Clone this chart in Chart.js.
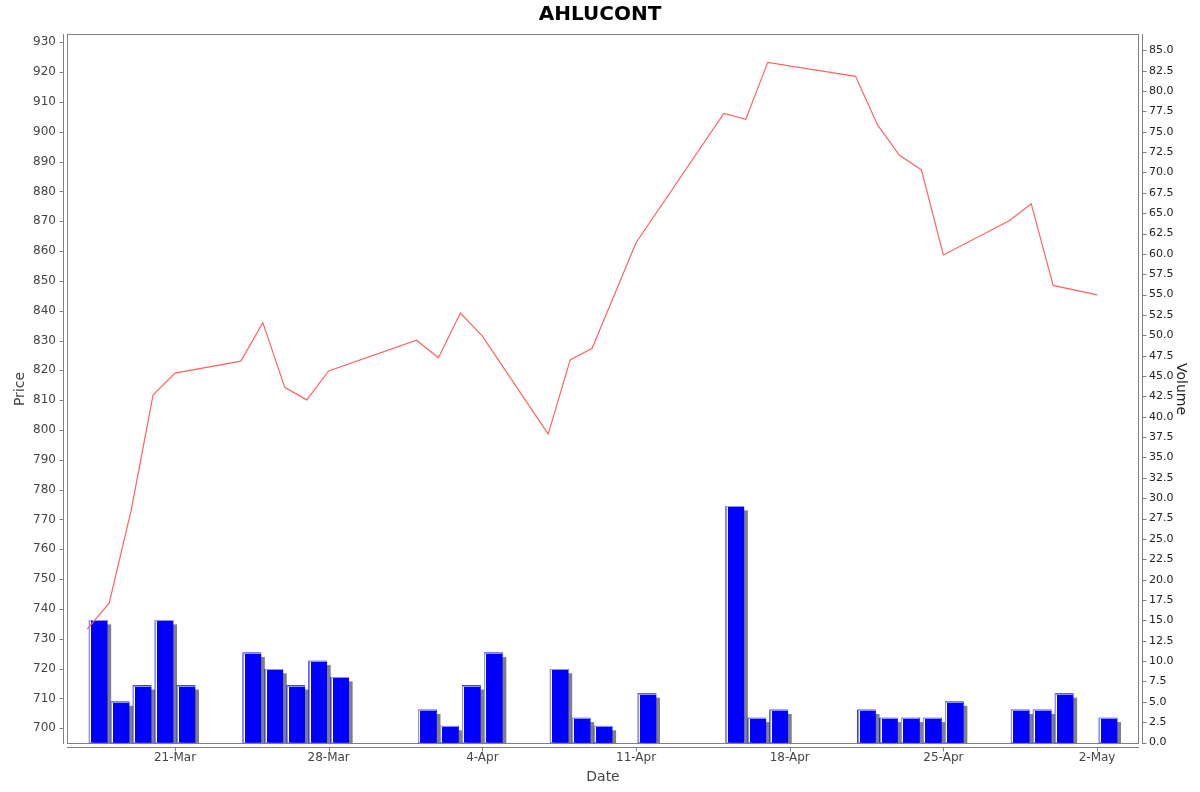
<!DOCTYPE html>
<html>
<head>
<meta charset="utf-8">
<title>AHLUCONT</title>
<script src="https://cdn.jsdelivr.net/npm/chart.js@4/dist/chart.umd.min.js"></script>
<style>
  html, body { margin: 0; padding: 0; background: #fff; }
  #wrap { width: 1200px; height: 792px; }
</style>
</head>
<body>
<div id="wrap"><canvas id="chart"></canvas></div>
<script>
// trading days shown on the chart
const dates = [
  '2025-03-17', '2025-03-18', '2025-03-19', '2025-03-20', '2025-03-21',
  '2025-03-24', '2025-03-25', '2025-03-26', '2025-03-27', '2025-03-28',
  '2025-04-01', '2025-04-02', '2025-04-03', '2025-04-04',
  '2025-04-07', '2025-04-08', '2025-04-09', '2025-04-11',
  '2025-04-15', '2025-04-16', '2025-04-17',
  '2025-04-21', '2025-04-22', '2025-04-23', '2025-04-24', '2025-04-25',
  '2025-04-28', '2025-04-29', '2025-04-30', '2025-05-02'
];
const prices = [
  733.2, 741.9, 773.0, 811.7, 819.1,
  823.1, 836.0, 814.3, 810.1, 819.8,
  830.1, 824.2, 839.2, 831.5,
  798.6, 823.5, 827.4, 862.8,
  906.2, 904.2, 923.3,
  918.6, 902.3, 892.1, 887.2, 858.7,
  870.2, 875.9, 848.5, 845.3
];
const volumes = [
  15, 5, 7, 15, 7,
  11, 9, 7, 10, 8,
  4, 2, 7, 11,
  9, 3, 2, 6,
  29, 3, 4,
  4, 3, 3, 3, 5,
  4, 4, 6, 3
];
const tickDates = ['2025-03-21', '2025-03-28', '2025-04-04', '2025-04-11', '2025-04-18', '2025-04-25', '2025-05-02'];
const tickLabels = ['21-Mar', '28-Mar', '4-Apr', '11-Apr', '18-Apr', '25-Apr', '2-May'];

const base = Date.parse('2025-03-21');
const dayNo = s => Math.round((Date.parse(s) - base) / 86400000);

const FONT = 'DejaVu Sans';
const GREY = '#808080';

// JFreeChart-style grey shadow under each bar, plus the light left/top edge on top
const barDeco = {
  id: 'barDeco',
  beforeDatasetDraw(chart, args) {
    if (args.meta.type !== 'bar') return;
    const { ctx, chartArea: a } = chart;
    ctx.save();
    ctx.beginPath();
    ctx.rect(a.left, a.top, a.right - a.left, a.bottom - a.top);
    ctx.clip();
    ctx.fillStyle = GREY;
    args.meta.data.forEach(el => {
      const { x, y, base, width } = el.getProps(['x', 'y', 'base', 'width'], true);
      ctx.fillRect(x - width / 2 + 4, y + 4, width, base - y);
    });
    ctx.restore();
  },
  afterDatasetDraw(chart, args) {
    if (args.meta.type !== 'bar') return;
    const ctx = chart.ctx;
    ctx.save();
    args.meta.data.forEach(el => {
      const { x, y, base, width } = el.getProps(['x', 'y', 'base', 'width'], true);
      const l = Math.round(x - width / 2), t = Math.round(y);
      ctx.fillStyle = '#8f8fff';
      ctx.fillRect(l, t, 1, base - t);
      ctx.fillRect(l, t, width, 1);
      ctx.fillStyle = '#ffffff';
      ctx.fillRect(l + 1, t + 1, 1, base - t - 1);
    });
    ctx.restore();
  }
};

// plot outline, detached axis lines and tick marks
const frame = {
  id: 'frame',
  afterDatasetsDraw(chart) {
    const { ctx, chartArea: a, scales } = chart;
    ctx.save();
    ctx.strokeStyle = GREY;
    ctx.lineWidth = 1;
    ctx.strokeRect(a.left + 0.5, a.top + 0.5, a.right - a.left - 1, a.bottom - a.top - 1);
    ctx.beginPath();
    const lx = a.left - 3.5, rx = a.right + 3.5, by = a.bottom + 3.5;
    ctx.moveTo(lx, a.top); ctx.lineTo(lx, a.bottom);
    ctx.moveTo(rx, a.top); ctx.lineTo(rx, a.bottom);
    ctx.moveTo(a.left, by); ctx.lineTo(a.right, by);
    scales.y.ticks.forEach(t => {
      const y = Math.round(scales.y.getPixelForValue(t.value)) + 0.5;
      ctx.moveTo(lx - 4, y); ctx.lineTo(lx, y);
    });
    scales.y1.ticks.forEach(t => {
      const y = Math.round(scales.y1.getPixelForValue(t.value)) + 0.5;
      ctx.moveTo(rx, y); ctx.lineTo(rx + 4, y);
    });
    scales.x.ticks.forEach(t => {
      const x = Math.round(scales.x.getPixelForValue(t.value)) + 0.5;
      ctx.moveTo(x, by); ctx.lineTo(x, by + 4);
    });
    ctx.stroke();
    ctx.restore();
  }
};

const ctx = document.getElementById('chart').getContext('2d');

new Chart(ctx, {
  data: {
    datasets: [
      {
        type: 'line',
        label: 'Price',
        data: dates.map((d, i) => ({ x: dayNo(d), y: prices[i] })),
        yAxisID: 'y',
        borderColor: '#ff6262',
        borderWidth: 1.2,
        pointRadius: 0,
        tension: 0,
        order: 0
      },
      {
        type: 'bar',
        label: 'Volume',
        data: dates.map((d, i) => ({ x: dayNo(d) + 0.5, y: volumes[i] })),
        yAxisID: 'y1',
        backgroundColor: '#0000ff',
        borderWidth: 0,
        barThickness: 18,
        clip: 0,
        order: 1
      }
    ]
  },
  options: {
    responsive: true,
    maintainAspectRatio: false,
    animation: false,
    layout: { padding: 0 },
    plugins: {
      legend: { display: false },
      tooltip: { enabled: false },
      title: {
        display: true,
        text: 'AHLUCONT',
        color: '#000',
        font: { family: FONT, size: 20, weight: 'bold' },
        padding: { top: 3, bottom: 7 }
      }
    },
    scales: {
      x: {
        type: 'linear',
        min: -4.92,
        max: 43.91,
        offset: false,
        grid: { display: false, drawTicks: false },
        border: { display: false },
        afterBuildTicks: s => { s.ticks = tickDates.map(d => ({ value: dayNo(d) })); },
        afterFit: s => { s.height = 48; },
        ticks: {
          autoSkip: false,
          maxRotation: 0,
          padding: 7,
          color: '#444',
          font: { family: FONT, size: 12 },
          callback: (v, i) => tickLabels[i]
        },
        title: {
          display: true,
          text: 'Date',
          color: '#444',
          font: { family: FONT, size: 14 },
          padding: { top: 0, bottom: 6 }
        }
      },
      y: {
        position: 'left',
        min: 694.7,
        max: 932.8,
        grid: { display: false, drawTicks: false },
        border: { display: false },
        afterFit: s => { s.width = 67; },
        ticks: {
          stepSize: 10,
          includeBounds: false,
          padding: 11,
          color: '#444',
          font: { family: FONT, size: 12 }
        },
        title: {
          display: true,
          text: 'Price',
          color: '#444',
          font: { family: FONT, size: 14 },
          padding: { top: 12, bottom: 0 }
        }
      },
      y1: {
        position: 'right',
        min: -0.18,
        max: 87.0,
        grid: { display: false, drawTicks: false },
        border: { display: false },
        afterFit: s => { s.width = 61; },
        ticks: {
          stepSize: 2.5,
          includeBounds: false,
          padding: 10,
          color: '#222',
          font: { family: FONT, size: 11 },
          callback: v => v.toFixed(1)
        },
        title: {
          display: true,
          text: 'Volume',
          color: '#222',
          font: { family: FONT, size: 14 },
          padding: { top: 11, bottom: 0 }
        }
      }
    }
  },
  plugins: [barDeco, frame]
});
</script>
</body>
</html>
